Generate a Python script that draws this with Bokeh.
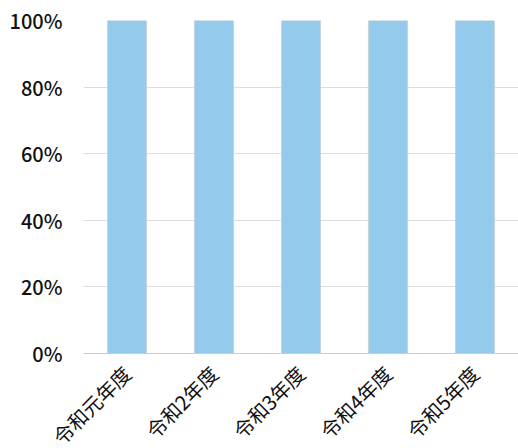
import math
from bokeh.plotting import figure
from bokeh.models import ColumnDataSource, FixedTicker, CustomJSTickFormatter, Range1d
from bokeh.embed import file_html
from bokeh.resources import INLINE

categories = ["令和元年度", "令和2年度", "令和3年度", "令和4年度", "令和5年度"]
values = [100, 100, 100, 100, 100]
y_ticks = [0, 20, 40, 60, 80, 100]

src = ColumnDataSource(dict(cat=categories, val=values))

FONT = "'Noto Sans CJK JP Medium', 'Noto Sans CJK JP'"

p = figure(x_range=categories, y_range=Range1d(0, 100), width=518, height=463,
           output_backend="svg", toolbar_location=None,
           min_border_left=83, min_border_right=0, min_border_top=20, min_border_bottom=95)
p.vbar(x="cat", top="val", width=0.45, source=src, fill_color="#94CAEB",
       line_color="#C8D3DA", line_width=1)

p.outline_line_color = None
p.background_fill_color = "white"
p.border_fill_color = "white"

p.yaxis.ticker = FixedTicker(ticks=y_ticks)
p.yaxis.formatter = CustomJSTickFormatter(code="return tick + '%';")
p.yaxis.axis_line_color = None
p.yaxis.major_tick_line_color = None
p.yaxis.minor_tick_line_color = None
p.yaxis.major_label_text_font = FONT
p.yaxis.major_label_text_font_size = "20px"
p.yaxis.major_label_text_font_style = "normal"
p.yaxis.major_label_text_color = "#111111"
p.yaxis.major_label_standoff = 15

p.xaxis.axis_line_color = "#CCCCCC"
p.xaxis.major_tick_line_color = None
p.xaxis.minor_tick_line_color = None
p.xaxis.major_label_orientation = math.pi / 4
p.xaxis.major_label_text_font = "Noto Sans CJK JP"
p.xaxis.major_label_text_font_size = "20px"
p.xaxis.major_label_text_color = "#111111"
p.xaxis.major_label_standoff = 10

p.xgrid.grid_line_color = None
p.ygrid.grid_line_color = "#DDDDDD"
p.ygrid.grid_line_width = 1

open("out.html", "w").write(file_html(p, INLINE))
